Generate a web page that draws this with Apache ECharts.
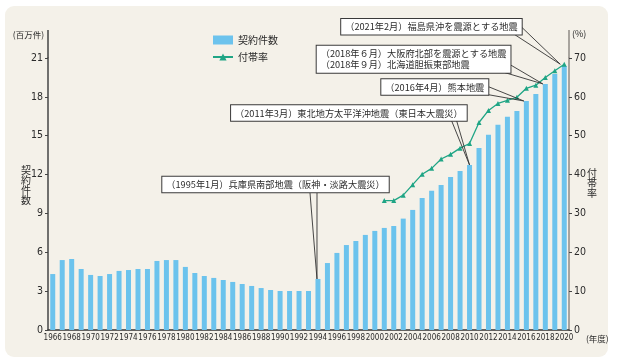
<!DOCTYPE html>
<html><head><meta charset="utf-8">
<script src="https://cdn.jsdelivr.net/npm/echarts@6/dist/echarts.min.js"></script>
<style>
html,body{margin:0;padding:0;background:#fff;}
#bg{position:absolute;left:5px;top:6px;width:603px;height:351px;border-radius:9px;background:#f4f1e9;}
#c{position:absolute;left:0;top:0;width:618px;height:364px;}
</style>
</head><body><div id="bg"></div><div id="c"></div>
<script>
// ---- data ----
const years = ['1966','1967','1968','1969','1970','1971','1972','1973','1974','1975','1976','1977','1978','1979','1980','1981','1982','1983','1984','1985','1986','1987','1988','1989','1990','1991','1992','1993','1994','1995','1996','1997','1998','1999','2000','2001','2002','2003','2004','2005','2006','2007','2008','2009','2010','2011','2012','2013','2014','2015','2016','2017','2018','2019','2020'];
const contracts = [4.32,5.40,5.48,4.71,4.25,4.17,4.32,4.56,4.63,4.71,4.71,5.33,5.40,5.40,4.87,4.40,4.17,4.02,3.86,3.71,3.55,3.40,3.24,3.09,3.01,3.01,3.01,3.01,3.94,5.17,5.95,6.56,6.87,7.34,7.65,7.88,8.03,8.60,9.27,10.19,10.76,11.20,11.81,12.28,12.74,14.05,15.08,15.85,16.47,16.91,17.68,18.22,19.00,19.77,20.39];
const rateYears = ['2001','2002','2003','2004','2005','2006','2007','2008','2009','2010','2011','2012','2013','2014','2015','2016','2017','2018','2019','2020'];
const attachRate = [33.3,33.3,34.7,37.4,40.1,41.6,44.0,45.2,46.8,48.0,53.4,56.5,58.3,59.1,59.9,62.2,63.0,65.0,66.7,68.4];
const seriesNames = ['契約件数','付帯率'];
const leftAxisTitle = '契約件数';
const rightAxisTitle = '付帯率';
const leftUnit = '(百万件)';
const rightUnit = '(%)';
const xUnit = '(年度)';
// earthquake notes: text, fiscal year, which series the pointer targets
const quakeNotes = [
  {text:'（2021年2月）福島県沖を震源とする地震', year:'2020', target:'line'},
  {text:'（2018年６月）大阪府北部を震源とする地震\n（2018年９月）北海道胆振東部地震', year:'2018', target:'bar'},
  {text:'（2016年4月）熊本地震', year:'2016', target:'bar'},
  {text:'（2011年3月）東北地方太平洋沖地震（東日本大震災）', year:'2010', target:'bar'},
  {text:'（1995年1月）兵庫県南部地震（阪神・淡路大震災）', year:'1994', target:'bar'}
];

// ---- layout / style ----
const JP = "'Noto Sans CJK JP','Noto Sans',sans-serif";
const NARROW = "'Liberation Sans Narrow','DejaVu Sans Condensed','Liberation Sans',sans-serif";
const BAR_C = '#6cc3ed', LINE_C = '#1fa585', TXT = '#2b2b2b';
const noteLayout = [
  {x:521.7, y:19,  align:'right', base:[[513,33.5],[521.5,27]], dx:-4, dy:0},
  {x:316.7, y:45.7,align:'left',  base:[[504.5,72.5],[509,64]], dx:-2.5, dy:0},
  {x:488.3, y:79.3,align:'right', base:[[484.5,94],[488,86.5]], dx:-2.5, dy:0},
  {x:466.7, y:105.3,align:'right',base:[[451.7,121],[456.7,121]], dx:0, dy:0},
  {x:162.3, y:176.7,align:'left', base:[[310,193],[317,193]], dx:-1, dy:0}
];

const rateFull = years.map(y => { const i = rateYears.indexOf(y); return i >= 0 ? attachRate[i] : null; });

const chart = echarts.init(document.getElementById('c'), null, {renderer:'canvas'});
const option = {
  backgroundColor: 'transparent',
  animation: false,
  textStyle: {fontFamily: JP},
  grid: {left:48, right:49, top:58, bottom:34, containLabel:false},
  legend: {
    orient:'vertical', left:207, top:30, itemWidth:20, itemHeight:9, itemGap:7,
    textStyle:{fontSize:10, color:TXT, fontFamily:JP},
    data:[{name:seriesNames[0], icon:'rect'}, {name:seriesNames[1]}]
  },
  xAxis: {
    type:'category', data:years, boundaryGap:true,
    name:xUnit, nameLocation:'end', nameGap:5,
    nameTextStyle:{fontSize:8.5, color:TXT, verticalAlign:'top', align:'left', padding:[5,0,0,0], fontFamily:JP},
    axisLine:{lineStyle:{color:'#333', width:1.5}},
    axisTick:{show:false},
    axisLabel:{interval:1, showMinLabel:true, showMaxLabel:true, hideOverlap:false, fontSize:8, color:TXT, margin:4, fontFamily:NARROW}
  },
  yAxis: [
    {type:'value', min:0, max:21, interval:3, position:'left',
     axisLine:{show:true, lineStyle:{color:'#444', width:1.5}},
     axisTick:{show:true, length:3, lineStyle:{color:'#444'}},
     axisLabel:{fontSize:10.5, color:TXT, margin:5, fontFamily:NARROW},
     splitLine:{show:false}},
    {type:'value', min:0, max:70, interval:10, position:'right',
     axisLine:{show:true, lineStyle:{color:'#8f8a84', width:1.5}},
     axisTick:{show:true, length:3, lineStyle:{color:'#444'}},
     axisLabel:{fontSize:10.5, color:TXT, margin:5, fontFamily:NARROW},
     splitLine:{show:false}}
  ],
  series: [
    {name:seriesNames[0], type:'bar', data:contracts, barWidth:5, itemStyle:{color:BAR_C}, yAxisIndex:0, z:2},
    {name:seriesNames[1], type:'line', data:rateFull, yAxisIndex:1, connectNulls:false,
     symbol:'triangle', symbolSize:5, showAllSymbol:true,
     lineStyle:{color:LINE_C, width:1.3}, itemStyle:{color:LINE_C}, z:3}
  ]
};
chart.setOption(option);

// ---- decorations & annotations ----
const g = [];
const gridRect = chart.getModel().getComponent('grid').coordinateSystem.getRect();
g.push({type:'line', z:50, shape:{x1:gridRect.x, y1:30, x2:gridRect.x, y2:gridRect.y}, style:{stroke:'#444', lineWidth:1.5}});
g.push({type:'line', z:50, shape:{x1:gridRect.x+gridRect.width, y1:30, x2:gridRect.x+gridRect.width, y2:gridRect.y}, style:{stroke:'#8f8a84', lineWidth:1.5}});
g.push({type:'text', z:50, x:44, y:35, style:{text:leftUnit, align:'right', verticalAlign:'middle', fontSize:8.5, fontFamily:JP, fill:TXT}});
g.push({type:'text', z:50, x:572, y:34, style:{text:rightUnit, align:'left', verticalAlign:'middle', fontSize:9, fontFamily:JP, fill:TXT}});
g.push({type:'text', z:50, x:26, y:165, style:{text:leftAxisTitle.split('').join('\n'), align:'center', verticalAlign:'top', fontSize:10, lineHeight:10, fontFamily:JP, fill:TXT}});
g.push({type:'text', z:50, x:592, y:168, style:{text:rightAxisTitle.split('').join('\n'), align:'center', verticalAlign:'top', fontSize:10, lineHeight:10, fontFamily:JP, fill:TXT}});

quakeNotes.forEach((n, k) => {
  const L = noteLayout[k];
  const idx = years.indexOf(n.year);
  let t;
  if (n.target === 'line') t = chart.convertToPixel({seriesIndex:1}, [idx, rateFull[idx]]);
  else t = chart.convertToPixel({seriesIndex:0}, [idx, contracts[idx]]);
  const tx = t[0] + L.dx, ty = t[1] + L.dy;
  g.push({type:'polyline', z:60, shape:{points:[L.base[0], [tx, ty], L.base[1]]}, style:{stroke:'#333', lineWidth:0.9, fill:null}});
  g.push({type:'text', z:70, x:L.x, y:L.y, style:{text:n.text, align:L.align, verticalAlign:'top', fontSize:9.2, lineHeight:11.5, fontFamily:JP, fill:TXT,
    backgroundColor:'#fff', borderColor:'#3a3a3a', borderWidth:1, padding:[2,4,2,4]}});
});
chart.setOption({graphic:{elements:g}});
</script>
</body></html>
